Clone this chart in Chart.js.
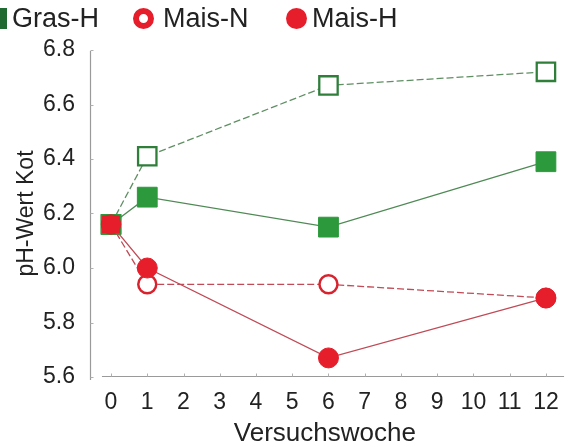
<!DOCTYPE html>
<html>
<head>
<meta charset="utf-8">
<script src="https://cdn.jsdelivr.net/npm/chart.js@4"></script>
<style>
  html, body { margin: 0; padding: 0; background: #fff; }
  #wrap { position: relative; width: 575px; height: 447px; overflow: hidden; font-family: "Liberation Sans", Arial, sans-serif; }
  #c { position: absolute; left: 0; top: 0; }
  .lg { position: absolute; top: 0; height: 34px; line-height: 34px; font-size: 27px; color: #222; white-space: nowrap; }
  .mk { position: absolute; box-sizing: border-box; }
</style>
</head>
<body>
<div id="wrap">
  <canvas id="c" width="575" height="447"></canvas>
  <div class="mk" style="left:-14px;top:8px;width:21px;height:21px;background:#1f6a31;"></div>
  <div class="lg" style="left:12px;top:1px;">Gras-H</div>
  <div class="mk" style="left:133px;top:8px;width:21px;height:21px;border:6px solid #e61e2b;border-radius:50%;background:#fff;"></div>
  <div class="lg" style="left:163px;top:1px;">Mais-N</div>
  <div class="mk" style="left:286px;top:8px;width:21px;height:21px;border-radius:50%;background:#e61e2b;"></div>
  <div class="lg" style="left:312px;top:1px;">Mais-H</div>
</div>
<script>
// ---- data ----
const weeks = [0, 1, 6, 12];
const grasN = [6.16, 6.41, 6.67, 6.72];
const grasH = [6.16, 6.26, 6.15, 6.39];
const maisN = [6.16, 5.94, 5.94, 5.89];
const maisH = [6.16, 6.00, 5.67, 5.89];
const xTicks = [0, 1, 2, 3, 4, 5, 6, 7, 8, 9, 10, 11, 12];
const yTicks = [5.6, 5.8, 6.0, 6.2, 6.4, 6.6, 6.8];
const xTitle = 'Versuchswoche';
const yTitle = 'pH-Wert Kot';

const pts = arr => arr.map((v, i) => ({ x: weeks[i], y: v }));

const axisLines = {
  id: 'axisLines',
  beforeDatasetsDraw(chart) {
    const { ctx } = chart;
    const xs = chart.scales.x, ys = chart.scales.y;
    ctx.save();
    ctx.strokeStyle = '#9a9a9a';
    ctx.lineWidth = 1.2;
    const lx = Math.round(xs.left) + 0.5;
    ctx.beginPath();
    ctx.moveTo(lx, ys.getPixelForValue(6.8) + 1);
    ctx.lineTo(lx, ys.getPixelForValue(5.6) + 3);
    ctx.stroke();
    const by = Math.round(ys.getPixelForValue(5.6)) - 0.5;
    ctx.beginPath();
    ctx.moveTo(xs.getPixelForValue(-0.25), by);
    ctx.lineTo(xs.getPixelForValue(12.5), by);
    ctx.stroke();
    ctx.lineWidth = 1;
    ctx.strokeStyle = '#b0b0b0';
    xTicks.forEach(v => {
      const px = Math.round(xs.getPixelForValue(v)) + 0.5;
      ctx.beginPath(); ctx.moveTo(px, by); ctx.lineTo(px, by - 3); ctx.stroke();
    });
    yTicks.forEach(v => {
      const py = Math.round(ys.getPixelForValue(v)) + 0.5;
      ctx.beginPath(); ctx.moveTo(lx, py); ctx.lineTo(lx + 3, py); ctx.stroke();
    });
    ctx.restore();
  }
};

new Chart(document.getElementById('c'), {
  type: 'scatter',
  data: {
    datasets: [
      {
        label: 'Mais-H', data: pts(maisH), showLine: true, order: 0,
        borderColor: '#c04a55', borderWidth: 1.3,
        pointStyle: ['rect', 'circle', 'circle', 'circle'],
        pointRadius: [12, 10, 10, 10],
        pointBackgroundColor: '#e61e2b', pointBorderColor: '#e61e2b', pointBorderWidth: 1
      },
      {
        label: 'Mais-N', data: pts(maisN), showLine: true, order: 1,
        borderColor: '#c04a55', borderWidth: 1.3, borderDash: [7, 3],
        pointStyle: 'circle', pointRadius: 9,
        pointBackgroundColor: '#ffffff', pointBorderColor: '#d8232e', pointBorderWidth: 2.5
      },
      {
        label: 'Gras-H', data: pts(grasH), showLine: true, order: 2,
        borderColor: '#4f8a55', borderWidth: 1.3,
        pointStyle: 'rect', pointRadius: 14,
        pointBackgroundColor: '#2c9a3c', pointBorderColor: '#2c9a3c', pointBorderWidth: 1
      },
      {
        label: 'Gras-N', data: pts(grasN), showLine: true, order: 3,
        borderColor: '#5f8f63', borderWidth: 1.3, borderDash: [7, 3],
        pointStyle: 'rect', pointRadius: 13,
        pointBackgroundColor: '#ffffff', pointBorderColor: '#2f7f3b', pointBorderWidth: 2.3
      }
    ]
  },
  options: {
    responsive: false,
    devicePixelRatio: 1,
    animation: false,
    layout: { padding: { top: 50, right: 8, left: 0, bottom: 0 } },
    plugins: { legend: { display: false }, tooltip: { enabled: false } },
    scales: {
      x: {
        type: 'linear', min: -0.58, max: 12.38,
        grid: { display: false }, border: { display: false },
        afterBuildTicks: s => { s.ticks = xTicks.map(v => ({ value: v })); },
        afterFit: s => { s.height = 70; },
        ticks: { color: '#222', padding: 4, maxRotation: 0, autoSkip: false,
          font: { family: '"Liberation Sans", Arial, sans-serif', size: 23 } },
        title: { display: true, text: xTitle, color: '#222', padding: { top: 0, bottom: 0 },
          font: { family: '"Liberation Sans", Arial, sans-serif', size: 26, lineHeight: 1 } }
      },
      y: {
        type: 'linear', min: 5.6, max: 6.8,
        grid: { display: false }, border: { display: false },
        afterBuildTicks: s => { s.ticks = yTicks.map(v => ({ value: v })); },
        afterFit: s => { s.width = 90; },
        ticks: { color: '#222', padding: 7, callback: v => Number(v).toFixed(1),
          font: { family: '"Liberation Sans", Arial, sans-serif', size: 23 } },
        title: { display: true, text: yTitle, color: '#222', padding: { top: 13, bottom: 0 },
          font: { family: '"Liberation Sans", Arial, sans-serif', size: 23, lineHeight: 1.2 } }
      }
    }
  },
  plugins: [axisLines]
});
</script>
</body>
</html>
